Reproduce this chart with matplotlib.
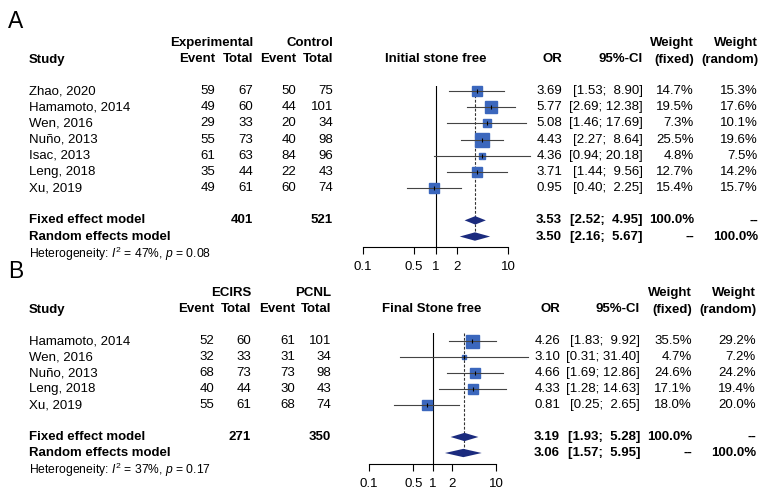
import numpy as np
import matplotlib
matplotlib.use("Agg")
import matplotlib.pyplot as plt

plt.rcParams["font.family"] = ["Liberation Sans", "DejaVu Sans"]
plt.rcParams["mathtext.fontset"] = "custom"
plt.rcParams["mathtext.rm"] = "Liberation Sans"
plt.rcParams["mathtext.it"] = "Liberation Sans:italic"

# ---------------------------------------------------------------------------
# Data - panel A (initial stone free)
# ---------------------------------------------------------------------------
studies_a = ["Zhao, 2020", "Hamamoto, 2014", "Wen, 2016", "Nuño, 2013",
             "Isac, 2013", "Leng, 2018", "Xu, 2019"]
ev_exp_a = [59, 49, 29, 55, 61, 35, 49]
n_exp_a = [67, 60, 33, 73, 63, 44, 61]
ev_ctl_a = [50, 44, 20, 40, 84, 22, 60]
n_ctl_a = [75, 101, 34, 98, 96, 43, 74]
or_a = [3.69, 5.77, 5.08, 4.43, 4.36, 3.71, 0.95]
lo_a = [1.53, 2.69, 1.46, 2.27, 0.94, 1.44, 0.40]
hi_a = [8.90, 12.38, 17.69, 8.64, 20.18, 9.56, 2.25]
wf_a = [14.7, 19.5, 7.3, 25.5, 4.8, 12.7, 15.4]
wr_a = [15.3, 17.6, 10.1, 19.6, 7.5, 14.2, 15.7]
fixed_a = (3.53, 2.52, 4.95)
random_a = (3.50, 2.16, 5.67)
tot_a = (401, 521)
het_a = ("47%", "0.08")

# ---------------------------------------------------------------------------
# Data - panel B (final stone free)
# ---------------------------------------------------------------------------
studies_b = ["Hamamoto, 2014", "Wen, 2016", "Nuño, 2013", "Leng, 2018", "Xu, 2019"]
ev_exp_b = [52, 32, 68, 40, 55]
n_exp_b = [60, 33, 73, 44, 61]
ev_ctl_b = [61, 31, 73, 30, 68]
n_ctl_b = [101, 34, 98, 43, 74]
or_b = [4.26, 3.10, 4.66, 4.33, 0.81]
lo_b = [1.83, 0.31, 1.69, 1.28, 0.25]
hi_b = [9.92, 31.40, 12.86, 14.63, 2.65]
wf_b = [35.5, 4.7, 24.6, 17.1, 18.0]
wr_b = [29.2, 7.2, 24.2, 19.4, 20.0]
fixed_b = (3.19, 1.93, 5.28)
random_b = (3.06, 1.57, 5.95)
tot_b = (271, 350)
het_b = ("37%", "0.17")

ticks = [0.1, 0.5, 1, 2, 10]
tick_labels = ["0.1", "0.5", "1", "2", "10"]

SQ = "#3b67bd"
DIA = "#1b2b7e"
FS = 9.5

fig = plt.figure(figsize=(7.62, 4.97), dpi=100)
W, H = 762, 497
tax = fig.add_axes([0, 0, 1, 1])
tax.set_xlim(0, W)
tax.set_ylim(H, 0)
tax.axis("off")


def ci_str(lo, hi):
    return f"[{lo:.2f}; {hi:5.2f}]"


def panel(letter, letter_y, grp1, grp2, title, studies, e1, n1, e2, n2,
          ors, los, his, wf, wr, fixed, rnd, tots, het,
          y_h1, y0, step, cols, rcols, fx0, fx1, fcenter, ax_top, ax_bot, maxside):
    n = len(studies)
    row_y = lambda r: y0 + r * step
    y_h2 = y_h1 + 16.5
    tax.text(8, letter_y, letter, fontsize=16.5, va="center", ha="left")
    # headers
    tax.text(29, y_h2, "Study", fontsize=FS, fontweight="bold", va="center")
    tax.text(cols[1], y_h1, grp1, fontsize=FS, fontweight="bold", va="center", ha="right")
    tax.text(cols[3], y_h1, grp2, fontsize=FS, fontweight="bold", va="center", ha="right")
    for c, lab in zip(cols, ["Event", "Total", "Event", "Total"]):
        tax.text(c, y_h2, lab, fontsize=FS, fontweight="bold", va="center", ha="right")
    tax.text(fcenter, y_h2, title, fontsize=FS, fontweight="bold", va="center", ha="center")
    tax.text(rcols[0], y_h2, "OR", fontsize=FS, fontweight="bold", va="center", ha="right")
    tax.text(rcols[1], y_h2, "95%-CI", fontsize=FS, fontweight="bold", va="center", ha="right")
    tax.text(rcols[2], y_h1, "Weight", fontsize=FS, fontweight="bold", va="center", ha="right")
    tax.text(rcols[2], y_h2, "(fixed)", fontsize=FS, fontweight="bold", va="center", ha="right")
    tax.text(rcols[3], y_h1, "Weight", fontsize=FS, fontweight="bold", va="center", ha="right")
    tax.text(rcols[3], y_h2, "(random)", fontsize=FS, fontweight="bold", va="center", ha="right")

    # study rows
    for i in range(n):
        y = row_y(i)
        tax.text(29, y, studies[i], fontsize=FS, va="center")
        for c, v in zip(cols, [e1[i], n1[i], e2[i], n2[i]]):
            tax.text(c, y, str(v), fontsize=FS, va="center", ha="right")
        tax.text(rcols[0], y, f"{ors[i]:.2f}", fontsize=FS, va="center", ha="right")
        tax.text(rcols[1], y, ci_str(los[i], his[i]), fontsize=FS, va="center", ha="right")
        tax.text(rcols[2], y, f"{wf[i]:.1f}%", fontsize=FS, va="center", ha="right")
        tax.text(rcols[3], y, f"{wr[i]:.1f}%", fontsize=FS, va="center", ha="right")

    # model rows
    yf, yr = row_y(n + 1), row_y(n + 2)
    tax.text(29, yf, "Fixed effect model", fontsize=FS, fontweight="bold", va="center")
    tax.text(cols[1], yf, str(tots[0]), fontsize=FS, fontweight="bold", va="center", ha="right")
    tax.text(cols[3], yf, str(tots[1]), fontsize=FS, fontweight="bold", va="center", ha="right")
    tax.text(rcols[0], yf, f"{fixed[0]:.2f}", fontsize=FS, fontweight="bold", va="center", ha="right")
    tax.text(rcols[1], yf, ci_str(fixed[1], fixed[2]), fontsize=FS, fontweight="bold", va="center", ha="right")
    tax.text(rcols[2], yf, "100.0%", fontsize=FS, fontweight="bold", va="center", ha="right")
    tax.text(rcols[3], yf, "--", fontsize=FS, fontweight="bold", va="center", ha="right")
    tax.text(29, yr, "Random effects model", fontsize=FS, fontweight="bold", va="center")
    tax.text(rcols[0], yr, f"{rnd[0]:.2f}", fontsize=FS, fontweight="bold", va="center", ha="right")
    tax.text(rcols[1], yr, ci_str(rnd[1], rnd[2]), fontsize=FS, fontweight="bold", va="center", ha="right")
    tax.text(rcols[2], yr, "--", fontsize=FS, fontweight="bold", va="center", ha="right")
    tax.text(rcols[3], yr, "100.0%", fontsize=FS, fontweight="bold", va="center", ha="right")
    tax.text(29, yr + 17, f"Heterogeneity: $I^2$ = {het[0]}, $p$ = {het[1]}",
             fontsize=8.7, va="center")

    # forest axes
    ax = fig.add_axes([fx0 / W, 1 - ax_bot / H, (fx1 - fx0) / W, (ax_bot - ax_top) / H])
    ax.set_xscale("log")
    ax.set_xlim(0.1, 10)
    r_top = (ax_top - y0) / step
    r_bot = (ax_bot - y0) / step
    ax.set_ylim(r_bot, r_top)
    ax.patch.set_alpha(0)
    for s in ["top", "left", "right"]:
        ax.spines[s].set_visible(False)
    ax.spines["bottom"].set_linewidth(0.8)
    ax.set_yticks([])
    ax.set_xticks(ticks)
    ax.set_xticklabels(tick_labels, fontsize=FS)
    ax.minorticks_off()
    ax.tick_params(axis="x", length=5, width=0.8, pad=5)
    ax.axvline(1, color="black", lw=0.8)
    ax.plot([fixed[0], fixed[0]], [r_top, n + 2], color="#333333", lw=0.8,
            ls=(0, (2.5, 1.5)), zorder=1)

    wmax = max(wf)
    for i in range(n):
        side = maxside * np.sqrt(wf[i] / wmax) * 0.72
        ax.plot(ors[i], i, marker="s", ms=side, color=SQ, mec=SQ, zorder=2, clip_on=False)
        ax.plot([los[i], his[i]], [i, i], color="#444444", lw=0.8, zorder=3, clip_on=False)
        ax.plot(ors[i], i, marker="|", ms=3, color="black", mew=0.8, zorder=4, clip_on=False)

    h = 0.26
    for est, r in [(fixed, n + 1), (rnd, n + 2)]:
        ax.fill([est[1], est[0], est[2], est[0]], [r, r - h, r, r + h],
                color=DIA, lw=0, zorder=3, clip_on=False)
    return ax


panel("A", 22, "Experimental", "Control", "Initial stone free",
      studies_a, ev_exp_a, n_exp_a, ev_ctl_a, n_ctl_a,
      or_a, lo_a, hi_a, wf_a, wr_a, fixed_a, random_a, tot_a, het_a,
      y_h1=43, y0=91, step=16.17, cols=[215, 253, 296, 333],
      rcols=[562, 643, 694, 758], fx0=363, fx1=508, fcenter=436,
      ax_top=86, ax_bot=247, maxside=14)

panel("B", 272, "ECIRS", "PCNL", "Final Stone free",
      studies_b, ev_exp_b, n_exp_b, ev_ctl_b, n_ctl_b,
      or_b, lo_b, hi_b, wf_b, wr_b, fixed_b, random_b, tot_b, het_b,
      y_h1=293, y0=341, step=16.0, cols=[214, 251, 295, 331],
      rcols=[560, 640, 692, 756], fx0=369, fx1=496, fcenter=432,
      ax_top=333, ax_bot=464, maxside=13)

fig.savefig("out.png", dpi=100)
